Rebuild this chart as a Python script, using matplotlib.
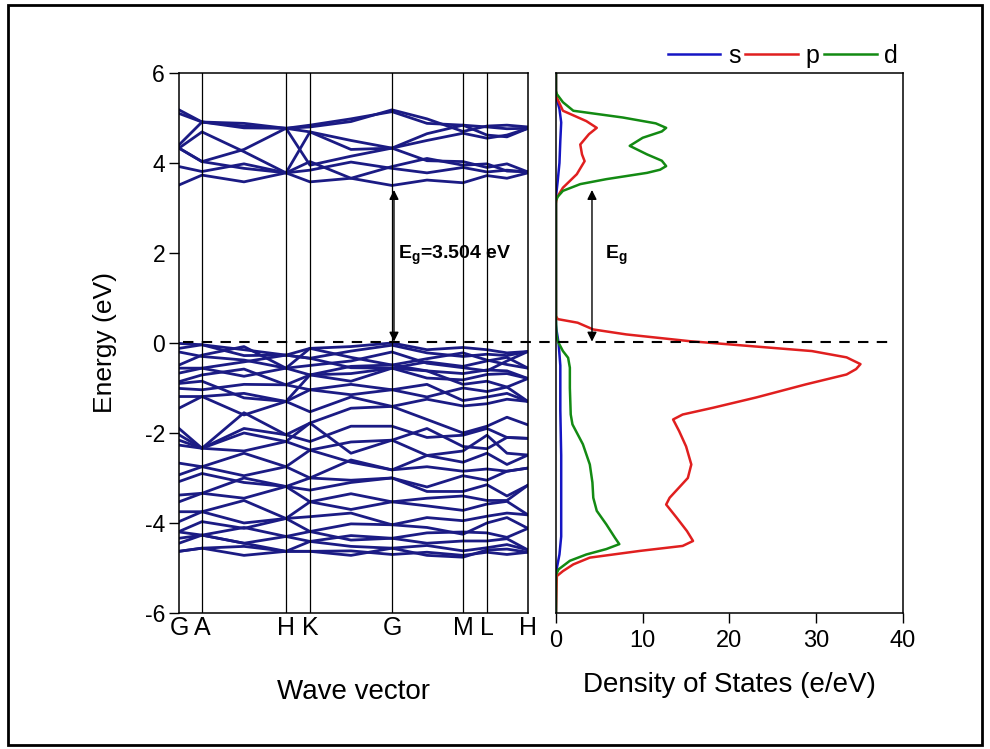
import numpy as np
import matplotlib.pyplot as plt
from matplotlib.lines import Line2D
from matplotlib.patches import Rectangle

plt.rcParams['font.family'] = ['Liberation Sans', 'DejaVu Sans']
plt.rcParams['mathtext.fontset'] = 'custom'
plt.rcParams['mathtext.rm'] = 'Liberation Sans'
plt.rcParams['mathtext.bf'] = 'Liberation Sans:bold'
plt.rcParams['axes.unicode_minus'] = False

## k-path (distance along path) and high-symmetry points
k_pos = [0, 23, 65, 107, 131, 172, 213, 248, 284, 308, 328, 349]
sym_pos = [0, 23, 107, 131, 213, 284, 308, 349]
sym_labels = ["G", "A", "H", "K", "G", "M", "L", "H"]

## conduction bands, energies (eV) at each k_pos
cb1 = [3.51, 3.73, 3.58, 3.78, 3.58, 3.66, 3.50, 3.62, 3.56, 3.72, 3.66, 3.78]
cb2 = [3.92, 3.81, 3.98, 3.78, 3.84, 4.02, 3.88, 3.78, 3.90, 3.80, 3.84, 3.80]
cb3 = [4.33, 4.03, 3.88, 3.78, 4.03, 3.66, 3.92, 4.10, 3.95, 3.98, 3.82, 3.80]
cb4 = [4.33, 4.03, 4.30, 4.77, 3.95, 4.15, 4.33, 4.05, 4.03, 3.90, 3.98, 3.80]
cb5 = [4.33, 4.69, 4.25, 3.78, 4.69, 4.30, 4.33, 4.50, 4.66, 4.55, 4.62, 4.77]
cb6 = [4.40, 4.91, 4.78, 4.77, 4.69, 4.50, 4.33, 4.65, 4.84, 4.62, 4.58, 4.77]
cb7 = [5.10, 4.91, 4.82, 4.77, 4.84, 4.98, 5.14, 4.88, 4.84, 4.80, 4.76, 4.77]
cb8 = [5.18, 4.91, 4.88, 4.77, 4.80, 4.92, 5.18, 4.98, 4.70, 4.82, 4.84, 4.80]

## valence bands
vb1 = [-0.01, -0.04, -0.15, -0.27, -0.12, -0.08, 0.00, -0.15, -0.10, -0.15, -0.22, -0.19]
vb2 = [-0.12, -0.04, -0.28, -0.27, -0.34, -0.18, -0.05, -0.22, -0.30, -0.25, -0.28, -0.19]
vb3 = [-0.49, -0.27, -0.08, -0.56, -0.12, -0.32, -0.49, -0.35, -0.22, -0.38, -0.48, -0.56]
vb4 = [-0.56, -0.56, -0.42, -0.27, -0.34, -0.55, -0.56, -0.42, -0.52, -0.40, -0.32, -0.56]
vb5 = [-0.67, -0.56, -0.74, -0.56, -0.71, -0.52, -0.49, -0.62, -0.68, -0.60, -0.62, -0.79]
vb6 = [-0.86, -0.71, -0.58, -0.93, -0.71, -0.85, -0.56, -0.78, -0.82, -0.70, -0.68, -0.79]
vb7 = [-1.01, -1.04, -0.92, -0.93, -1.04, -1.15, -1.04, -1.20, -1.00, -1.08, -0.98, -1.30]
vb8 = [-1.19, -1.19, -1.12, -1.30, -1.04, -0.92, -1.04, -0.92, -1.28, -1.20, -1.12, -1.30]
vb9 = [-1.45, -1.19, -1.60, -1.30, -1.53, -1.20, -1.41, -1.25, -1.40, -1.35, -1.25, -1.30]
vb10 = [-1.90, -2.34, -1.55, -2.04, -1.78, -1.45, -1.41, -1.70, -2.00, -1.85, -1.65, -1.82]
vb11 = [-2.04, -2.34, -1.90, -2.04, -2.19, -1.85, -1.85, -2.10, -2.05, -1.90, -2.10, -2.12]
vb12 = [-2.16, -2.34, -2.40, -2.19, -2.38, -2.20, -2.16, -1.90, -2.30, -2.35, -2.10, -2.12]
vb13 = [-2.27, -2.34, -2.00, -2.19, -1.78, -2.45, -2.16, -2.50, -2.40, -2.05, -2.45, -2.49]
vb14 = [-2.67, -2.75, -2.45, -2.75, -2.38, -2.65, -2.82, -2.50, -2.65, -2.45, -2.70, -2.49]
vb15 = [-2.93, -2.75, -2.95, -2.75, -3.00, -2.60, -2.82, -2.75, -2.85, -2.80, -2.85, -2.78]
vb16 = [-3.08, -2.90, -3.10, -3.19, -3.00, -3.05, -3.00, -3.20, -2.95, -3.05, -2.85, -2.78]
vb17 = [-3.38, -3.34, -3.00, -3.19, -3.27, -3.10, -3.00, -3.30, -3.30, -3.15, -3.40, -3.16]
vb18 = [-3.53, -3.34, -3.45, -3.19, -3.53, -3.35, -3.53, -3.45, -3.40, -3.50, -3.50, -3.16]
vb19 = [-3.75, -3.75, -3.50, -3.90, -3.53, -3.70, -3.53, -3.62, -3.72, -3.58, -3.52, -3.82]
vb20 = [-3.97, -3.75, -4.00, -3.90, -3.86, -3.78, -4.04, -3.88, -3.95, -3.85, -3.78, -3.82]
vb21 = [-4.19, -3.97, -4.12, -3.90, -4.19, -4.02, -4.04, -4.10, -4.25, -4.00, -3.88, -4.12]
vb22 = [-4.34, -4.27, -4.10, -4.30, -4.19, -4.38, -4.34, -4.22, -4.20, -4.22, -4.32, -4.12]
vb23 = [-4.45, -4.27, -4.45, -4.30, -4.41, -4.28, -4.34, -4.45, -4.40, -4.40, -4.35, -4.60]
vb24 = [-4.63, -4.56, -4.52, -4.63, -4.41, -4.52, -4.56, -4.50, -4.62, -4.55, -4.48, -4.60]
vb25 = [-4.63, -4.56, -4.72, -4.63, -4.63, -4.62, -4.70, -4.65, -4.72, -4.65, -4.70, -4.65]
vb26 = [-4.20, -4.27, -4.45, -4.63, -4.63, -4.72, -4.56, -4.72, -4.76, -4.60, -4.58, -4.65]
vb27 = [-0.20, -0.30, -0.38, -0.56, -0.50, -0.40, -0.20, -0.45, -0.55, -0.62, -0.40, -0.19]
vb28 = [-0.90, -0.85, -1.22, -1.30, -0.71, -0.68, -0.56, -0.62, -0.92, -0.85, -0.98, -0.79]

bands = [cb1, cb2, cb3, cb4, cb5, cb6, cb7, cb8,
         vb1, vb2, vb3, vb4, vb5, vb6, vb7, vb8, vb9, vb10, vb11, vb12, vb13, vb14,
         vb15, vb16, vb17, vb18, vb19, vb20, vb21, vb22, vb23, vb24, vb25, vb26, vb27, vb28]

## partial DOS (energy, states)
s_energy = [6.0, 5.5, 5.45, 5.2, 4.9, 4.5, 4.0, 3.6, 3.25, 3.1, 0.4, 0.3, 0.0, -0.5,
            -1.5, -2.5, -3.5, -4.3, -4.7, -5.0, -5.2, -6.0]
s_dos = [0, 0, 0.05, 0.4, 0.6, 0.5, 0.4, 0.2, 0.0, 0, 0, 0.05, 0.3, 0.5,
         0.5, 0.6, 0.6, 0.6, 0.4, 0.1, 0.0, 0]

p_energy = [6.0, 5.6, 5.45, 5.16, 4.93, 4.78, 4.64, 4.41, 4.19, 4.04, 3.75, 3.45, 3.23, 3.1,
            0.6, 0.53, 0.45, 0.30, 0.19, 0.04, -0.18, -0.32, -0.47, -0.58, -0.70, -0.92,
            -1.21, -1.44, -1.59, -1.70, -1.96, -2.3, -2.7, -3.0, -3.21, -3.44, -3.59, -3.88,
            -4.18, -4.40, -4.51, -4.62, -4.77, -4.92, -5.07, -5.18, -6.0]
p_dos = [0, 0, 0.1, 0.8, 3.5, 4.7, 3.8, 2.8, 3.0, 3.3, 2.4, 0.8, 0.1, 0,
         0, 0.2, 2.5, 4.3, 8.1, 15.4, 29.5, 33.5, 35.1, 34.6, 33.5, 28.8,
         23.1, 18.1, 14.6, 13.5, 14.2, 15.0, 15.6, 15.2, 14.2, 13.1, 12.7, 13.9,
         15.1, 15.8, 14.6, 9.7, 3.9, 2.0, 0.8, 0.1, 0]

d_energy = [6.0, 5.6, 5.53, 5.35, 5.16, 5.01, 4.88, 4.78, 4.70, 4.56, 4.38, 4.19, 4.05, 3.93,
            3.85, 3.78, 3.64, 3.53, 3.38, 3.25, 3.16, 0.5, 0.2, 0.04, -0.18, -0.33, -0.55,
            -1.0, -1.59, -1.81, -2.25, -2.7, -3.1, -3.44, -3.73, -4.03, -4.33, -4.47, -4.58,
            -4.70, -4.84, -5.03, -5.15, -6.0]
d_dos = [0, 0, 0.1, 0.8, 2.0, 7.7, 11.5, 12.7, 12.2, 10.0, 8.5, 10.5, 12.2, 12.7,
         12.0, 10.5, 5.8, 2.8, 0.8, 0.2, 0, 0, 0.05, 0.2, 0.8, 1.4, 1.6,
         1.6, 1.7, 1.9, 3.1, 3.9, 4.2, 4.3, 4.7, 5.8, 6.8, 7.3, 5.8,
         3.5, 1.6, 0.3, 0.0, 0]

gap_value = 3.504
e_fermi = 0.03
e_cbm = 3.40

band_color = "#1b1b84"
s_color = "#1515c4"
p_color = "#e01f1f"
d_color = "#138a13"

fig = plt.figure(figsize=(9.9, 7.49), dpi=100)
ax1 = fig.add_axes([0.1808, 0.1816, 0.3525, 0.7210])
ax2 = fig.add_axes([0.5616, 0.1816, 0.3505, 0.7210])

## band structure
for b in bands:
    ax1.plot(k_pos, b, color=band_color, lw=2.0)

for k in sym_pos[1:-1]:
    ax1.axvline(k, color="black", lw=0.9, zorder=3)

ax1.set_xlim(sym_pos[0], sym_pos[-1])
ax1.set_ylim(-6, 6)
ax1.set_yticks([-6, -4, -2, 0, 2, 4, 6])
ax1.set_xticks(sym_pos)
ax1.set_xticklabels(sym_labels, fontsize=18)
ax1.tick_params(axis="x", length=0, pad=2)
ax1.tick_params(axis="y", direction="out", length=7, width=1, labelsize=16.5, pad=3)
ax1.set_ylabel("Energy (eV)", fontsize=19, labelpad=20)
ax1.set_xlabel("Wave vector", fontsize=20, labelpad=28)

ax1.annotate("", xy=(sym_pos[4] + 2, e_cbm), xytext=(sym_pos[4] + 2, e_fermi),
             arrowprops=dict(arrowstyle="<|-|>", color="black", lw=1.0,
                             mutation_scale=14, shrinkA=0, shrinkB=0))
ax1.text(sym_pos[4] + 6, 1.95, r"$\mathbf{E_g}$" + "=%.3f eV" % gap_value,
         fontsize=14, fontweight="bold", ha="left", va="center")

## density of states
ax2.plot(s_dos, s_energy, color=s_color, lw=1.8, label="s")
ax2.plot(p_dos, p_energy, color=p_color, lw=1.8, label="p")
ax2.plot(d_dos, d_energy, color=d_color, lw=1.8, label="d")

ax2.set_xlim(0, 40)
ax2.set_ylim(-6, 6)
ax2.set_xticks([0, 10, 20, 30, 40])
ax2.set_yticks([])
ax2.tick_params(axis="x", direction="out", length=7, width=1, labelsize=17, pad=5)
ax2.set_xlabel("Density of States (e/eV)", fontsize=20, labelpad=15)

ax2.annotate("", xy=(4.15, e_cbm), xytext=(4.15, e_fermi),
             arrowprops=dict(arrowstyle="<|-|>", color="black", lw=1.0,
                             mutation_scale=14, shrinkA=0, shrinkB=0))
ax2.text(5.6, 1.95, r"$\mathbf{E_g}$", fontsize=14, ha="left", va="center")

ax2.legend(loc="lower right", bbox_to_anchor=(1.0, 1.0), ncol=3, frameon=False,
           fontsize=18, handlelength=2.1, handletextpad=0.3, columnspacing=0.2,
           borderaxespad=0.1, borderpad=0.1)

for ax in (ax1, ax2):
    for sp in ax.spines.values():
        sp.set_linewidth(1.1)

## Fermi level dashed line running across both panels
inv = fig.transFigure.inverted()
p0 = inv.transform(ax1.transData.transform((4, e_fermi)))
p1 = inv.transform(ax2.transData.transform((38.8, e_fermi)))
fig.add_artist(Line2D([p0[0], p1[0]], [p0[1], p1[1]], color="black", lw=1.5,
                      linestyle=(0, (5, 4)), zorder=5))

## outer frame
fig.add_artist(Rectangle((0.008, 0.006), 0.984, 0.987, transform=fig.transFigure,
                         fill=False, edgecolor="black", lw=2))

fig.savefig("out.png", dpi=100)
